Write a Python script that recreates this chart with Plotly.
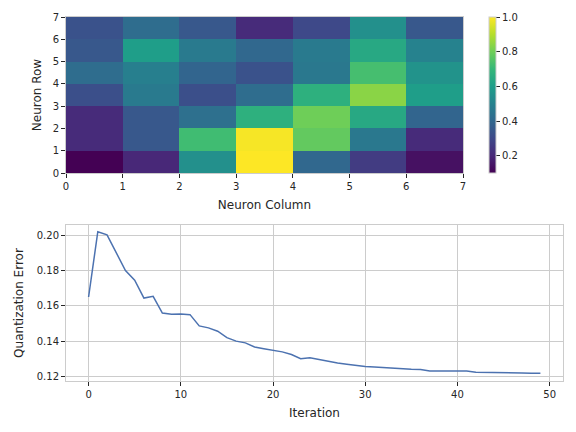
import plotly.graph_objects as go

# SOM distance map (rows bottom -> top), columns 0..6
row0 = [0.10, 0.20, 0.55, 1.00, 0.40, 0.26, 0.14]
row1 = [0.21, 0.35, 0.72, 0.99, 0.78, 0.46, 0.21]
row2 = [0.21, 0.35, 0.43, 0.67, 0.80, 0.64, 0.39]
row3 = [0.32, 0.47, 0.32, 0.42, 0.67, 0.84, 0.60]
row4 = [0.42, 0.49, 0.39, 0.33, 0.46, 0.73, 0.56]
row5 = [0.35, 0.60, 0.47, 0.40, 0.47, 0.64, 0.50]
row6 = [0.33, 0.42, 0.35, 0.21, 0.30, 0.55, 0.35]
neuron_cols = [0.5, 1.5, 2.5, 3.5, 4.5, 5.5, 6.5]
neuron_rows = [0.5, 1.5, 2.5, 3.5, 4.5, 5.5, 6.5]

iterations = list(range(50))
q_error = [0.165, 0.202, 0.2002, 0.1905, 0.180, 0.1745, 0.1644, 0.1654, 0.1559, 0.1552,
           0.1554, 0.155, 0.1486, 0.1475, 0.1456, 0.142, 0.140, 0.139, 0.1367, 0.1357,
           0.135, 0.1339, 0.1324, 0.130, 0.1306, 0.1295, 0.1284, 0.1276, 0.1269, 0.1261,
           0.1256, 0.1254, 0.125, 0.1244, 0.1242, 0.124, 0.1239, 0.1231, 0.123, 0.123,
           0.123, 0.123, 0.1224, 0.1224, 0.1224, 0.1222, 0.1222, 0.122, 0.1218, 0.1218]

W, H = 576, 432
OFF = 8  # page body margin
FONT = "DejaVu Sans"
TXT = "#262626"
EDGE = "#cccccc"

def px(x):
    return (x - OFF) / W

def py(y):
    return 1 - (y - OFF) / H

fig = go.Figure()

fig.add_trace(go.Heatmap(
    z=[row0, row1, row2, row3, row4, row5, row6],
    x=neuron_cols, y=neuron_rows,
    colorscale="Viridis", zmin=0.1, zmax=1.0,
    xaxis="x", yaxis="y",
    colorbar=dict(
        x=px(489), xanchor="left", xref="paper", xpad=0,
        y=py(95), yanchor="middle", yref="paper", ypad=0,
        len=156, lenmode="pixels", thickness=7,
        outlinecolor=EDGE, outlinewidth=1,
        tickvals=[0.2, 0.4, 0.6, 0.8, 1.0], ticktext=["0.2", "0.4", "0.6", "0.8", "1.0"],
        ticks="outside", ticklen=4, tickcolor=TXT,
        tickfont=dict(family=FONT, size=10, color=TXT),
    ),
))

fig.add_trace(go.Scatter(
    x=iterations, y=q_error, mode="lines",
    line=dict(color="#4c72b0", width=1.5),
    xaxis="x2", yaxis="y2", showlegend=False,
))

axis_common = dict(
    showline=True, mirror=True, linecolor=EDGE, linewidth=1,
    ticks="outside", ticklen=4, tickcolor=TXT, tickwidth=1,
    tickfont=dict(family=FONT, size=10, color=TXT),
    zeroline=False, automargin=False,
)

fig.update_layout(
    width=W, height=H,
    margin=dict(l=0, r=0, t=0, b=0, autoexpand=False),
    paper_bgcolor="white", plot_bgcolor="white",
    showlegend=False,
    font=dict(family=FONT, color=TXT),
    xaxis=dict(domain=[px(66), px(463)], anchor="y", range=[0, 7], dtick=1, tick0=0,
               showgrid=False,
               title=dict(text="Neuron Column", font=dict(size=12), standoff=9),
               **axis_common),
    yaxis=dict(domain=[py(173), py(17)], anchor="x", range=[0, 7], dtick=1, tick0=0,
               showgrid=False,
               title=dict(text="Neuron Row", font=dict(size=12), standoff=8),
               **axis_common),
    xaxis2=dict(domain=[px(66), px(563)], anchor="y2", range=[-2.45, 51.45],
                tickvals=[0, 10, 20, 30, 40, 50],
                showgrid=True, gridcolor=EDGE, gridwidth=1,
                title=dict(text="Iteration", font=dict(size=12), standoff=9),
                **axis_common),
    yaxis2=dict(domain=[py(381), py(225)], anchor="x2", range=[0.1174, 0.2058],
                tickvals=[0.12, 0.14, 0.16, 0.18, 0.20], tickformat=".2f",
                showgrid=True, gridcolor=EDGE, gridwidth=1,
                title=dict(text="Quantization Error", font=dict(size=12), standoff=10),
                **axis_common),
)

fig.write_html("out.html")
